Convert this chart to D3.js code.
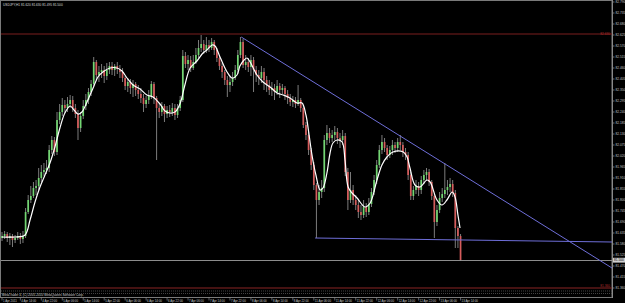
<!DOCTYPE html>
<html>
<head>
<meta charset="utf-8">
<script src="https://cdn.jsdelivr.net/npm/d3@7"></script>
<style>
  body { margin: 0; background: #000; }
  svg { display: block; }
</style>
</head>
<body>
<div id="chart"></div>
<script>
// Chart header and copyright line
const titleText = "USDJPY,H1  81.620 81.630 81.495 81.500";
const copyrightText = "MetaTrader 4, (C) 2001-2010 MetaQuotes Software Corp.";

// OHLC per hourly bar (bar index = position)
const opens = [81.610,81.620,81.630,81.610,81.620,81.600,81.610,81.620,81.605,81.620,
  81.740,81.800,81.820,81.860,81.870,81.910,81.940,81.950,81.960,82.050,
  82.100,82.040,82.200,82.240,82.275,82.260,82.280,82.300,82.260,82.230,
  82.160,82.220,82.270,82.300,82.340,82.380,82.490,82.425,82.440,82.450,
  82.420,82.450,82.470,82.450,82.470,82.455,82.440,82.410,82.370,82.390,
  82.360,82.380,82.350,82.330,82.310,82.280,82.300,82.320,82.380,82.310,
  82.260,82.240,82.270,82.230,82.250,82.240,82.260,82.225,82.260,82.300,
  82.520,82.480,82.500,82.460,82.490,82.525,82.560,82.580,82.550,82.575,
  82.560,82.590,82.550,82.510,82.470,82.440,82.400,82.375,82.390,82.410,
  82.450,82.525,82.590,82.475,82.490,82.465,82.500,82.450,82.425,82.410,
  82.440,82.400,82.375,82.350,82.360,82.340,82.370,82.350,82.360,82.330,
  82.310,82.290,82.300,82.280,82.300,82.260,82.175,82.125,82.050,81.975,
  81.875,81.800,81.840,81.860,82.100,82.135,82.110,82.125,82.140,82.110,
  82.100,82.120,81.940,81.800,81.850,81.800,81.775,81.740,81.725,81.765,
  81.740,81.780,81.840,81.900,81.975,82.050,82.090,82.060,82.025,82.050,
  82.075,82.060,82.090,82.075,82.040,82.025,81.925,81.820,81.850,81.870,
  81.850,81.900,81.925,81.940,81.890,81.820,81.690,81.750,81.810,81.830,
  81.850,81.865,81.880,81.835,81.660,81.620];
const highs = [81.640,81.645,81.640,81.635,81.630,81.625,81.640,81.635,81.645,81.760,
  81.825,81.870,81.890,81.900,81.960,81.975,81.985,82.000,82.075,82.120,
  82.115,82.240,82.280,82.310,82.300,82.315,82.325,82.320,82.280,82.250,
  82.240,82.300,82.330,82.360,82.400,82.515,82.500,82.470,82.480,82.470,
  82.485,82.490,82.490,82.480,82.490,82.475,82.460,82.420,82.410,82.405,
  82.400,82.390,82.375,82.360,82.330,82.320,82.350,82.395,82.390,82.320,
  82.285,82.290,82.280,82.270,82.275,82.285,82.280,82.280,82.320,82.550,
  82.540,82.525,82.520,82.525,82.560,82.600,82.625,82.600,82.615,82.600,
  82.610,82.600,82.560,82.525,82.485,82.450,82.420,82.415,82.440,82.475,
  82.550,82.615,82.605,82.525,82.510,82.525,82.515,82.470,82.450,82.470,
  82.460,82.420,82.400,82.390,82.380,82.400,82.385,82.380,82.370,82.350,
  82.330,82.320,82.315,82.375,82.310,82.275,82.190,82.140,82.060,81.990,
  81.885,81.875,81.900,82.125,82.175,82.160,82.150,82.170,82.160,82.135,
  82.150,82.135,81.960,81.940,81.875,81.825,81.800,81.775,81.800,81.785,
  81.810,81.860,81.925,82.000,82.075,82.125,82.110,82.075,82.070,82.100,
  82.090,82.110,82.125,82.090,82.060,82.040,81.940,81.870,81.900,81.890,
  81.920,81.950,81.960,81.955,81.900,81.830,81.775,81.840,81.860,81.985,
  81.900,81.910,81.900,81.850,81.670,81.630];
const lows = [81.595,81.605,81.590,81.575,81.565,81.585,81.600,81.580,81.585,81.610,
  81.730,81.785,81.810,81.825,81.850,81.890,81.920,81.930,81.940,82.030,
  82.020,82.025,82.180,82.220,82.235,82.240,82.260,82.240,82.210,82.100,
  82.140,82.205,82.250,82.280,82.320,82.370,82.400,82.390,82.410,82.385,
  82.400,82.430,82.425,82.420,82.430,82.410,82.390,82.350,82.340,82.330,
  82.315,82.320,82.305,82.285,82.240,82.260,82.280,82.305,82.280,82.000,
  82.210,82.220,82.190,82.210,82.215,82.220,82.200,82.210,82.245,82.290,
  82.460,82.450,82.440,82.450,82.480,82.510,82.540,82.530,82.535,82.540,
  82.550,82.525,82.490,82.450,82.410,82.375,82.315,82.340,82.370,82.400,
  82.430,82.510,82.460,82.450,82.440,82.420,82.340,82.390,82.375,82.385,
  82.350,82.340,82.325,82.320,82.300,82.325,82.310,82.330,82.300,82.280,
  82.270,82.265,82.260,82.270,82.240,82.160,82.100,82.025,81.950,81.850,
  81.610,81.775,81.810,81.840,82.075,82.085,82.090,82.100,82.080,82.060,
  82.075,81.920,81.750,81.785,81.775,81.750,81.710,81.700,81.710,81.715,
  81.725,81.765,81.825,81.880,81.960,82.030,82.040,82.000,82.010,82.025,
  82.035,82.040,82.050,82.015,82.000,81.900,81.800,81.800,81.830,81.820,
  81.830,81.880,81.900,81.870,81.800,81.610,81.670,81.735,81.790,81.810,
  81.825,81.840,81.815,81.560,81.560,81.495];
const closes = [81.620,81.630,81.610,81.620,81.600,81.610,81.620,81.605,81.620,81.740,
  81.800,81.820,81.860,81.870,81.910,81.940,81.950,81.960,82.050,82.100,
  82.040,82.200,82.240,82.275,82.260,82.280,82.300,82.260,82.230,82.160,
  82.220,82.270,82.300,82.340,82.380,82.490,82.425,82.440,82.450,82.420,
  82.450,82.470,82.450,82.470,82.455,82.440,82.410,82.370,82.390,82.360,
  82.380,82.350,82.330,82.310,82.280,82.300,82.320,82.380,82.310,82.260,
  82.240,82.270,82.230,82.250,82.240,82.260,82.225,82.260,82.300,82.520,
  82.480,82.500,82.460,82.490,82.525,82.560,82.580,82.550,82.575,82.560,
  82.590,82.550,82.510,82.470,82.440,82.400,82.375,82.390,82.410,82.450,
  82.525,82.590,82.475,82.490,82.465,82.500,82.450,82.425,82.410,82.440,
  82.400,82.375,82.350,82.360,82.340,82.370,82.350,82.360,82.330,82.310,
  82.290,82.300,82.280,82.300,82.260,82.175,82.125,82.050,81.975,81.875,
  81.800,81.840,81.860,82.100,82.135,82.110,82.125,82.140,82.110,82.100,
  82.120,81.940,81.800,81.850,81.800,81.775,81.740,81.725,81.765,81.740,
  81.780,81.840,81.900,81.975,82.050,82.090,82.060,82.025,82.050,82.075,
  82.060,82.090,82.075,82.040,82.025,81.925,81.820,81.850,81.870,81.850,
  81.900,81.925,81.940,81.890,81.820,81.690,81.750,81.810,81.830,81.850,
  81.865,81.880,81.835,81.660,81.620,81.500];

// Moving average (white curve) at these bar positions
const maBars = [0,5,8.8,10.7,12.6,14.5,16.4,18.3,20.2,22.1,
  24,26,27.5,29,30.5,32.1,33.6,35.1,36.6,38.5,
  41.2,43.9,45.8,47.7,50,52.7,55.3,57.6,60.3,62.2,
  64.1,66,67.9,69.8,71.8,74.4,76.7,78.2,80.2,81.3,
  83.2,85.9,87.8,89.7,90.8,92.4,93.5,94.7,97.3,99.6,
  102.3,105,107.3,109.9,112.6,114.5,116,117.2,118.3,119.8,
  121.4,122.5,124,125.2,126.3,127.9,129.8,130.9,132.1,133.6,
  135.5,138.5,140.5,143.1,145,146.9,149.2,153.1,154.6,155.7,
  157.6,159.5,162.2,163.4,166,167.9,169.8,171.8,172.9,174,174.8];
const maValues = [81.615,81.615,81.625,81.700,81.790,81.865,81.925,81.985,82.065,82.160,
  82.235,82.270,82.250,82.230,82.240,82.280,82.325,82.370,82.415,82.440,
  82.460,82.460,82.445,82.410,82.375,82.355,82.325,82.315,82.280,82.245,
  82.235,82.240,82.280,82.375,82.460,82.495,82.535,82.550,82.575,82.570,
  82.515,82.440,82.410,82.425,82.470,82.500,82.510,82.490,82.425,82.390,
  82.365,82.335,82.325,82.310,82.285,82.285,82.225,82.125,82.025,81.925,
  81.850,81.860,81.935,82.035,82.085,82.100,82.090,82.000,81.865,81.835,
  81.810,81.765,81.785,81.900,81.975,82.015,82.040,82.040,82.015,81.960,
  81.875,81.865,81.900,81.890,81.800,81.775,81.800,81.840,81.815,81.725,81.660];

// Price scale labels
const priceTicks = ["82.790","82.735","82.680","82.625","82.570","82.515","82.460","82.405","82.350",
  "82.295","82.240","82.185","82.130","82.075","82.020","81.965","81.910","81.855","81.800",
  "81.745","81.690","81.635","81.580","81.525","81.470","81.415","81.360"];

// Time scale labels and the bar each one sits on
const timeLabels = ["1 Apr 2011","4 Apr 14:00","4 Apr 22:00","5 Apr 06:00","5 Apr 14:00","5 Apr 22:00",
  "6 Apr 06:00","6 Apr 14:00","6 Apr 22:00","7 Apr 06:00","7 Apr 14:00","7 Apr 22:00",
  "8 Apr 06:00","8 Apr 14:00","8 Apr 22:00","11 Apr 06:00","11 Apr 14:00","11 Apr 22:00",
  "12 Apr 06:00","12 Apr 14:00","12 Apr 22:00","13 Apr 06:00","13 Apr 14:00"];
const timeLabelBars = [0,7,15,23,31,39,47,55,63,71,79,87,95,103,111,119,127,135,143,151,159,167,175];

// Drawn objects: horizontal levels and trend lines ([bar, price] end points)
const resistanceLevel = 82.630;
const supportLevel = 81.360;
const bidPrice = 81.500;
const downTrend = [[91.3, 82.615], [232.8, 81.460]];
const lowerTrend = [[119.5, 81.610], [232.8, 81.590]];

const width = 625, height = 303;
const plotRight = 612, plotBottom = 297;
const font = "'Liberation Sans', Arial, sans-serif";

const svg = d3.select("#chart").append("svg")
  .attr("width", width)
  .attr("height", height);

svg.append("rect").attr("width", width).attr("height", height).attr("fill", "#000");

const x = d3.scaleLinear().domain([0, 232.8]).range([2, plotRight]);
const y = d3.scaleLinear().domain([81.36, 82.80]).range([288, 0]);

// frame
svg.append("rect")
  .attr("x", 0.5).attr("y", 0.5)
  .attr("width", plotRight - 0.5).attr("height", plotBottom)
  .attr("fill", "none").attr("stroke", "#7a7a7a").attr("stroke-width", 1);

// level lines
svg.append("line")
  .attr("x1", 1).attr("x2", plotRight)
  .attr("y1", y(resistanceLevel)).attr("y2", y(resistanceLevel))
  .attr("stroke", "#7a1e1e").attr("stroke-width", 1);
svg.append("line")
  .attr("x1", 1).attr("x2", plotRight)
  .attr("y1", y(supportLevel)).attr("y2", y(supportLevel))
  .attr("stroke", "#8a2424").attr("stroke-width", 1);
svg.append("line")
  .attr("x1", 1).attr("x2", plotRight)
  .attr("y1", y(bidPrice) + 0.5).attr("y2", y(bidPrice) + 0.5)
  .attr("stroke", "#8c8c8c").attr("stroke-width", 1);

[[resistanceLevel, 0.8], [supportLevel, -1.5]].forEach(([lvl, dy]) => {
  svg.append("text")
    .attr("x", plotRight - 2).attr("y", y(lvl) + dy)
    .attr("text-anchor", "end")
    .attr("font-family", font).attr("font-size", 3.2)
    .attr("fill", "#b32b2b")
    .text(d3.format(".3f")(lvl));
});

// candles
const bars = closes.map((c, i) => ({ i, o: opens[i], h: highs[i], l: lows[i], c }));
const candles = svg.append("g");
candles.selectAll("line")
  .data(bars).enter().append("line")
  .attr("x1", d => x(d.i)).attr("x2", d => x(d.i))
  .attr("y1", d => y(d.h)).attr("y2", d => y(d.l))
  .attr("stroke", "#9c9c9c").attr("stroke-width", 0.8);
candles.selectAll("rect")
  .data(bars).enter().append("rect")
  .attr("x", d => x(d.i) - 0.85)
  .attr("width", 1.7)
  .attr("y", d => y(Math.max(d.o, d.c)))
  .attr("height", d => Math.max(0.8, Math.abs(y(d.o) - y(d.c))))
  .attr("fill", d => d.c >= d.o ? "#72d672" : "#d65c5c");

// moving average
const maLine = d3.line()
  .x((d, i) => x(maBars[i]))
  .y(d => y(d))
  .curve(d3.curveCatmullRom);
svg.append("path")
  .datum(maValues)
  .attr("fill", "none")
  .attr("stroke", "#ffffff")
  .attr("stroke-width", 1.2)
  .attr("d", maLine);

// trend lines
const trend = d3.line().x(d => x(d[0])).y(d => y(d[1]));
[downTrend, lowerTrend].forEach(pts => {
  svg.append("path")
    .datum(pts)
    .attr("fill", "none")
    .attr("stroke", "#6e6ed8")
    .attr("stroke-width", 1)
    .attr("d", trend);
});

// small indicator strip at the bottom
[291, 293.5].forEach(yy => {
  svg.append("line")
    .attr("x1", 1).attr("x2", plotRight)
    .attr("y1", yy).attr("y2", yy)
    .attr("stroke", "#555").attr("stroke-width", 0.8)
    .attr("stroke-dasharray", "1,1");
});
svg.append("text")
  .attr("x", 2).attr("y", 296.3)
  .attr("font-family", font).attr("font-size", 3.2)
  .attr("fill", "#c8c8c8")
  .text(copyrightText);

// title
svg.append("text")
  .attr("x", 3).attr("y", 6)
  .attr("font-family", font).attr("font-size", 3.2)
  .attr("fill", "#d8d8d8")
  .text(titleText);

// price axis
svg.append("line")
  .attr("x1", plotRight + 0.5).attr("x2", plotRight + 0.5)
  .attr("y1", 0).attr("y2", plotBottom + 1)
  .attr("stroke", "#8a8a8a").attr("stroke-width", 1);
const pAxis = svg.append("g");
priceTicks.forEach(t => {
  const yy = y(+t);
  pAxis.append("line")
    .attr("x1", plotRight).attr("x2", plotRight + 2.5)
    .attr("y1", yy).attr("y2", yy)
    .attr("stroke", "#8a8a8a").attr("stroke-width", 0.8);
  pAxis.append("text")
    .attr("x", plotRight + 3.5).attr("y", yy + 1.2)
    .attr("font-family", font).attr("font-size", 3.2)
    .attr("fill", "#c0c0c0")
    .text(t);
});

// bid price box on the axis
svg.append("rect")
  .attr("x", plotRight + 1).attr("y", y(bidPrice) - 2.2)
  .attr("width", 12).attr("height", 4.8)
  .attr("fill", "#d0d0d0");
svg.append("text")
  .attr("x", plotRight + 2).attr("y", y(bidPrice) + 1.3)
  .attr("font-family", font).attr("font-size", 3.2)
  .attr("fill", "#000")
  .text(d3.format(".3f")(bidPrice));

// time axis
const tAxis = svg.append("g");
timeLabels.forEach((t, k) => {
  const xx = x(timeLabelBars[k]);
  tAxis.append("line")
    .attr("x1", xx).attr("x2", xx)
    .attr("y1", plotBottom + 0.5).attr("y2", plotBottom + 3.5)
    .attr("stroke", "#9a9a9a").attr("stroke-width", 0.6);
  tAxis.append("text")
    .attr("x", xx + 1).attr("y", 301.5)
    .attr("font-family", font).attr("font-size", 2.9)
    .attr("fill", "#c8c8c8")
    .text(t);
});
</script>
</body>
</html>
